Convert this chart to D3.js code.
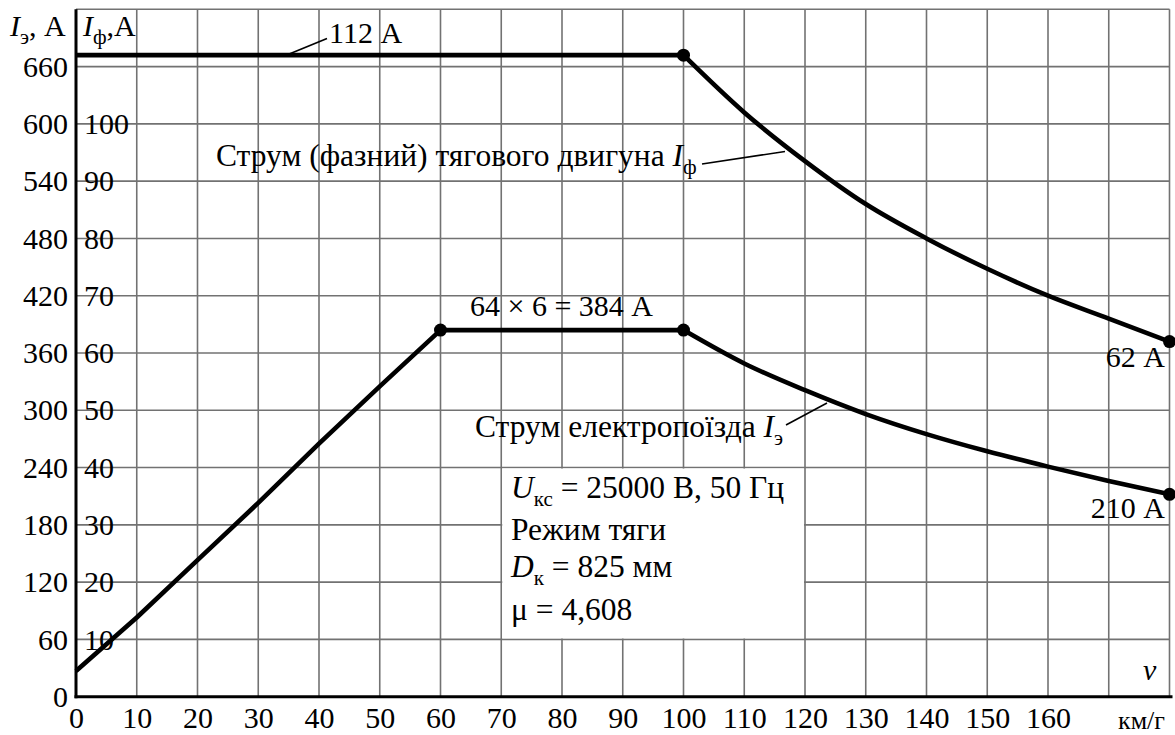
<!DOCTYPE html>
<html><head><meta charset="utf-8">
<script src="https://cdn.jsdelivr.net/npm/d3@7"></script>
</head>
<body style="margin:0;background:#fff">
<script>
// ---- data ----
const xTicks = [0,10,20,30,40,50,60,70,80,90,100,110,120,130,140,150,160];
const yTicksOuter = [0,60,120,180,240,300,360,420,480,540,600,660];
const yTicksInner = [10,20,30,40,50,60,70,80,90,100]; // phase current, A (x6 on outer scale)
const riseSpeed = [0,10,20,30,40,50,60,100];
const riseCurrent = [27,83,143,203,265,325,384,384];
const fallSpeed = [100,110,120,130,140,150,160,170,180];
const fallCurrent = [384,349,321,296,275,257,241,226,212];
const phaseFlatSpeed = [0,100];
const phaseFlatCurrent = [112,112];
const phaseFallSpeed = [100,110,120,130,140,150,160,170,180];
const phaseFallCurrent = [112,102,93.5,86,80,74.7,70,66,62];
const trainDots = [[60,384],[100,384],[180,212]];
const phaseDots = [[100,112],[180,62]];

const W=1175,H=735;
const FONT="'Liberation Serif'";
const svg=d3.select("body").append("svg").attr("width",W).attr("height",H).style("display","block");
const x=d3.scaleLinear().domain([0,180]).range([76,1169.5]);
const y=d3.scaleLinear().domain([0,720]).range([696.7,9.3]);
const FS=30, FT=31.5;

// grid
const g=svg.append("g");
g.selectAll("line.v").data(d3.range(10,181,10)).join("line")
 .attr("x1",d=>x(d)).attr("x2",d=>x(d)).attr("y1",y(0)).attr("y2",y(720))
 .attr("stroke","#727272").attr("stroke-width",1.6);
g.selectAll("line.h").data(d3.range(60,721,60)).join("line")
 .attr("y1",d=>y(d)).attr("y2",d=>y(d)).attr("x1",x(0)).attr("x2",x(180))
 .attr("stroke","#727272").attr("stroke-width",1.6);

// info box (white)
svg.append("rect").attr("x",x(70)+1).attr("y",y(240)+1)
 .attr("width",x(120)-x(70)-2).attr("height",y(60)-y(240)-2).attr("fill","#fff");

// axes lines
svg.append("line").attr("x1",x(0)).attr("x2",x(0)).attr("y1",y(0)+1.5).attr("y2",y(720)).attr("stroke","#000").attr("stroke-width",3);
svg.append("line").attr("x1",x(0)-1.5).attr("x2",x(180)+3).attr("y1",y(0)).attr("y2",y(0)).attr("stroke","#000").attr("stroke-width",3);

function styleAxis(a){
  a.select(".domain").remove();
  a.attr("font-family",null).attr("font-size",null);
  a.selectAll("text").style("font-size",FS+"px").style("font-family",FONT).attr("fill","#000");
}
const ax=svg.append("g").attr("transform",`translate(0,${y(0)})`)
 .call(d3.axisBottom(x).tickValues(xTicks).tickSize(0).tickPadding(10).tickFormat(d3.format("d")));
styleAxis(ax); ax.selectAll("text").attr("dy","0.71em");

const ayo=svg.append("g").attr("transform",`translate(${x(0)},0)`)
 .call(d3.axisLeft(y).tickValues(yTicksOuter).tickSize(0).tickPadding(8).tickFormat(d3.format("d")));
styleAxis(ayo);

const yi=d3.scaleLinear().domain([0,120]).range(y.range());
const ayi=svg.append("g").attr("transform",`translate(${x(0)},0)`)
 .call(d3.axisRight(yi).tickValues(yTicksInner).tickSize(0).tickPadding(8).tickFormat(d3.format("d")));
styleAxis(ayi);

// curves
const lin=d3.line().x(d=>x(d[0])).y(d=>y(d[1]));
const crv=d3.line().x(d=>x(d[0])).y(d=>y(d[1])).curve(d3.curveMonotoneX);
function path(gen,xs,vs,k){
  svg.append("path").datum(xs.map((s,i)=>[s,vs[i]*k])).attr("d",gen)
   .attr("fill","none").attr("stroke","#000").attr("stroke-width",4.6).attr("stroke-linejoin","round");
}
path(lin,riseSpeed,riseCurrent,1);
path(crv,fallSpeed,fallCurrent,1);
path(lin,phaseFlatSpeed,phaseFlatCurrent,6);
path(crv,phaseFallSpeed,phaseFallCurrent,6);
svg.selectAll("circle.t").data(trainDots).join("circle").attr("cx",d=>x(d[0])).attr("cy",d=>y(d[1])).attr("r",6.5).attr("fill","#000");
svg.selectAll("circle.p").data(phaseDots).join("circle").attr("cx",d=>x(d[0])).attr("cy",d=>y(d[1]*6)).attr("r",6.5).attr("fill","#000");

// text helpers
function txt(xx,yy,parts,anchor,fs){
  const t=svg.append("text").attr("x",xx).attr("y",yy).style("font-size",(fs||FS)+"px").style("font-family",FONT).attr("text-anchor",anchor||"start").attr("fill","#000");
  parts.forEach(p=>{
    const s=t.append("tspan").text(p.t);
    if(p.i) s.style("font-style","italic");
    if(p.sub) s.style("font-size","21px").attr("dy",8);
    if(p.up) s.attr("dy",-8);
  });
  return t;
}
// headers
txt(10,36,[{t:"I",i:1},{t:"э",sub:1},{t:", А",up:1}]);
txt(83,36,[{t:"I",i:1},{t:"ф",sub:1},{t:",А",up:1}]);
// annotations
txt(329,43,[{t:"112 А"}]);
svg.append("line").attr("x1",288).attr("y1",54.5).attr("x2",327).attr("y2",38.5).attr("stroke","#000").attr("stroke-width",1.6);
txt(470,316,[{t:"64 × 6 = 384 А"}]);
txt(216,166,[{t:"Струм (фазний) тягового двигуна "},{t:"I",i:1},{t:"ф",sub:1}],"start",FT);
svg.append("line").attr("x1",702).attr("y1",164).attr("x2",785).attr("y2",151.5).attr("stroke","#000").attr("stroke-width",1.6);
txt(475,437,[{t:"Струм електропоїзда "},{t:"I",i:1},{t:"э",sub:1}],"start",FT);
svg.append("line").attr("x1",786).attr("y1",425).attr("x2",827).attr("y2",403).attr("stroke","#000").attr("stroke-width",1.6);
txt(1165,367,[{t:"62 А"}],"end");
txt(1165,518,[{t:"210 А"}],"end");
// box text
txt(511,498,[{t:"U",i:1},{t:"кс",sub:1},{t:" = 25000 В, 50 Гц",up:1}],"start",FT);
txt(511,540,[{t:"Режим тяги"}],"start",FT);
txt(511,577,[{t:"D",i:1},{t:"к",sub:1},{t:" = 825 мм",up:1}],"start",FT);
txt(511,620,[{t:"μ = 4,608"}],"start",FT);
// axis unit
txt(1143,680,[{t:"v",i:1}]);
txt(1165,729,[{t:"км/г"}],"end",26);
</script>
</body></html>
